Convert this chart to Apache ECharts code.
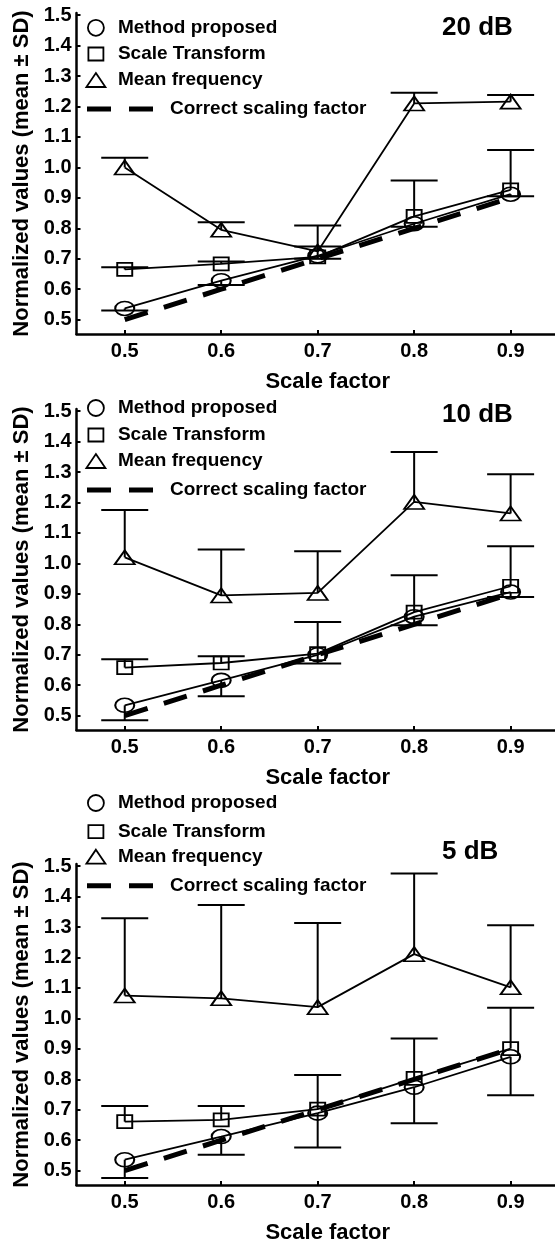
<!DOCTYPE html>
<html>
<head>
<meta charset="utf-8">
<script src="https://cdn.jsdelivr.net/npm/echarts@6/dist/echarts.min.js"></script>
<style>
html,body{margin:0;padding:0;background:#fff;}
#chart{width:555px;height:1248px;}
</style>
</head>
<body>
<div id="chart"></div>
<script>
// ---------- data ----------
const scaleFactors = [0.5, 0.6, 0.7, 0.8, 0.9];
const correctFactor = [0.5, 0.6, 0.7, 0.8, 0.9];
const xTicks = [0.5, 0.6, 0.7, 0.8, 0.9];
const yTicks = [0.5, 0.6, 0.7, 0.8, 0.9, 1.0, 1.1, 1.2, 1.3, 1.4, 1.5];
const panelTitles = ['20 dB', '10 dB', '5 dB'];
const seriesNames = ['Method proposed', 'Scale Transform', 'Mean frequency', 'Correct scaling factor'];

// 20 dB
const method20 = [0.537, 0.628, 0.710, 0.815, 0.912];
const method20Bar = [0.530, 0.614, 0.700, 0.805, 0.905];
const scaleT20 = [0.665, 0.683, 0.706, 0.839, 0.926];
const scaleT20Bar = [0.672, 0.691, 0.740, 0.957, 1.057];
const meanF20 = [1.000, 0.795, 0.724, 1.210, 1.216];
const meanF20Bar = [1.032, 0.820, 0.809, 1.245, 1.238];

// 10 dB
const method10 = [0.534, 0.616, 0.700, 0.825, 0.906];
const method10Bar = [0.485, 0.564, 0.671, 0.797, 0.890];
const scaleT10 = [0.658, 0.673, 0.704, 0.840, 0.925];
const scaleT10Bar = [0.685, 0.695, 0.808, 0.961, 1.056];
const meanF10 = [1.020, 0.895, 0.903, 1.202, 1.164];
const meanF10Bar = [1.175, 1.046, 1.040, 1.366, 1.293];

// 5 dB
const method5 = [0.536, 0.612, 0.689, 0.774, 0.874];
const method5Bar = [0.476, 0.552, 0.576, 0.656, 0.748];
const scaleT5 = [0.661, 0.667, 0.702, 0.803, 0.901];
const scaleT5Bar = [0.712, 0.712, 0.814, 0.934, 1.035];
const meanF5 = [1.075, 1.066, 1.037, 1.211, 1.102];
const meanF5Bar = [1.329, 1.372, 1.313, 1.476, 1.306];

const panels = [
  {method: method20, methodBar: method20Bar, scaleT: scaleT20, scaleTBar: scaleT20Bar, meanF: meanF20, meanFBar: meanF20Bar},
  {method: method10, methodBar: method10Bar, scaleT: scaleT10, scaleTBar: scaleT10Bar, meanF: meanF10, meanFBar: meanF10Bar},
  {method: method5, methodBar: method5Bar, scaleT: scaleT5, scaleTBar: scaleT5Bar, meanF: meanF5, meanFBar: meanF5Bar}
];

// ---------- layout ----------
const FONT = "'Liberation Sans', Arial, Helvetica, sans-serif";
const gridTops = [13, 409, 864];
const gridH = 321;
const titleTops = [15, 402, 839];
const legendRowCenters = [
  [27.8, 54, 80, 109],
  [408, 435, 461, 490],
  [803, 831.7, 856.7, 885.7]
];

const chart = echarts.init(document.getElementById('chart'), null, {renderer: 'canvas'});

const grid = [], xAxis = [], yAxis = [], series = [], title = [], legend = [];

function pairs(ys) { return scaleFactors.map((x, i) => [x, ys[i]]); }
function barData(ys, bars) { return scaleFactors.map((x, i) => [x, ys[i], bars[i]]); }

const errRender = function (params, api) {
  const x = api.value(0), m = api.value(1), e = api.value(2);
  const p0 = api.coord([x, m]);
  const p1 = api.coord([x, e]);
  const hw = 23.5;
  const st = {stroke: '#000', lineWidth: 2};
  return {type: 'group', children: [
    {type: 'line', shape: {x1: p0[0], y1: p0[1], x2: p1[0], y2: p1[1]}, style: st},
    {type: 'line', shape: {x1: p1[0] - hw, y1: p1[1], x2: p1[0] + hw, y2: p1[1]}, style: st}
  ]};
};

const markerStyle = {color: 'rgba(0,0,0,0)', borderColor: '#000', borderWidth: 1.8};
const symbols = [
  {symbol: 'circle', size: [19, 14], legendSize: [16, 16]},
  {symbol: 'rect', size: [15, 13], legendSize: [15, 13]},
  {symbol: 'triangle', size: [20, 14], legendSize: [19, 14]}
];

panels.forEach((p, i) => {
  grid.push({left: 76.5, right: 0, top: gridTops[i], height: gridH, containLabel: false});
  xAxis.push({
    type: 'value', gridIndex: i, min: 0.45, max: 0.946,
    axisLine: {show: true, onZero: false, lineStyle: {color: '#000', width: 2.5}},
    axisTick: {show: true, inside: true, length: 4, customValues: xTicks, lineStyle: {color: '#000', width: 2}},
    axisLabel: {customValues: xTicks, formatter: v => v.toFixed(1), fontSize: 20, fontWeight: 'bold', color: '#000', fontFamily: FONT, margin: 7.5},
    splitLine: {show: false},
    name: 'Scale factor', nameLocation: 'middle', nameGap: 37,
    nameTextStyle: {fontSize: 22, fontWeight: 'bold', color: '#000', fontFamily: FONT, padding: [0, 0, 0, 24]}
  });
  yAxis.push({
    type: 'value', gridIndex: i, min: 0.453, max: 1.507,
    axisLine: {show: true, onZero: false, lineStyle: {color: '#000', width: 2.5}},
    axisTick: {show: true, inside: true, length: 4, customValues: yTicks, lineStyle: {color: '#000', width: 2}},
    axisLabel: {customValues: yTicks, formatter: v => v.toFixed(1), fontSize: 20, fontWeight: 'bold', color: '#000', fontFamily: FONT, margin: 5},
    splitLine: {show: false},
    name: 'Normalized values (mean ± SD)', nameLocation: 'middle', nameGap: 43,
    nameTextStyle: {fontSize: 22, fontWeight: 'bold', color: '#000', fontFamily: FONT}
  });
  title.push({
    text: panelTitles[i], left: 442, top: titleTops[i], padding: 0,
    textStyle: {fontSize: 26, fontWeight: 'bold', color: '#000', fontFamily: FONT}
  });

  // correct scaling factor (dashed)
  series.push({
    name: seriesNames[3], type: 'line', xAxisIndex: i, yAxisIndex: i,
    data: pairs(correctFactor), symbol: 'none',
    lineStyle: {color: '#000', width: 5, type: [24, 17]}, itemStyle: {color: '#000'},
    z: 2
  });

  const lineSets = [[p.method, p.methodBar], [p.scaleT, p.scaleTBar], [p.meanF, p.meanFBar]];
  lineSets.forEach((ls, k) => {
    series.push({
      name: seriesNames[k], type: 'line', xAxisIndex: i, yAxisIndex: i,
      data: pairs(ls[0]), symbol: symbols[k].symbol, symbolSize: symbols[k].size, showSymbol: true,
      itemStyle: markerStyle, lineStyle: {color: '#000', width: 1.8}, z: 3
    });
    series.push({
      type: 'custom', xAxisIndex: i, yAxisIndex: i,
      data: barData(ls[0], ls[1]), encode: {x: 0, y: [1, 2]},
      renderItem: errRender, z: 3, silent: true
    });
  });

  // legends (one per row)
  const rows = legendRowCenters[i];
  const textStyleBase = {fontSize: 19, fontWeight: 'bold', color: '#000', fontFamily: FONT, lineHeight: 20};
  symbols.forEach((s, k) => {
    const w = s.legendSize[0], h = s.legendSize[1];
    legend.push({
      orient: 'horizontal', left: 95 - w / 2, top: rows[k] - 10, padding: 0, selectedMode: false,
      itemWidth: w, itemHeight: h,
      data: [{name: seriesNames[k], icon: s.symbol, itemStyle: {color: 'rgba(0,0,0,0)', borderColor: '#000', borderWidth: 1.8}}],
      textStyle: Object.assign({}, textStyleBase, {padding: [0, 0, 0, 17 - w / 2]})
    });
  });
  legend.push({
    orient: 'horizontal', left: 87, top: rows[3] - 10, padding: 0, selectedMode: false,
    itemWidth: 66, itemHeight: 5,
    data: [{name: seriesNames[3], icon: 'path://M0,0H24V5H0Z M42,0H66V5H42Z', itemStyle: {color: '#000', borderWidth: 0}}],
    textStyle: Object.assign({}, textStyleBase, {padding: [0, 0, 0, 12]})
  });
});

chart.setOption({
  animation: false,
  backgroundColor: '#fff',
  title, legend, grid, xAxis, yAxis, series
});
</script>
</body>
</html>
